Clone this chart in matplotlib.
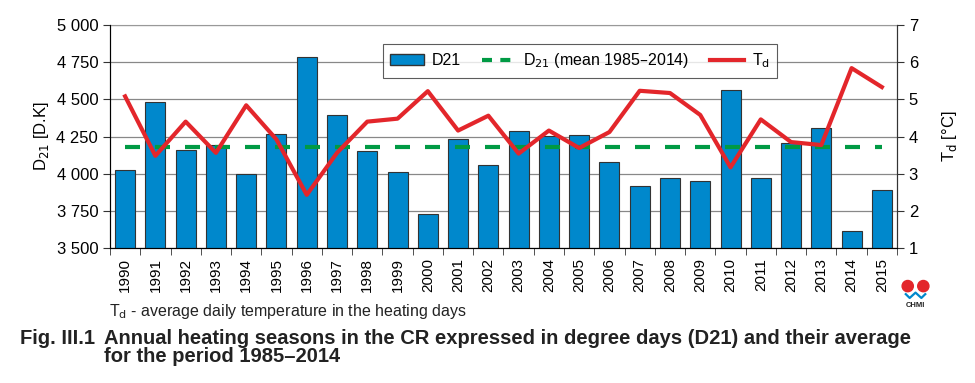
import numpy as np
import matplotlib
matplotlib.use("Agg")
import matplotlib.pyplot as plt
from matplotlib.ticker import FuncFormatter
from matplotlib.patches import Patch, Ellipse
from matplotlib.lines import Line2D

plt.rcParams['font.family'] = ['Liberation Sans', 'DejaVu Sans']

years = list(range(1990, 2016))
d21 = [4025, 4480, 4160, 4190, 4000, 4267, 4785, 4395, 4150, 4010,
       3730, 4232, 4056, 4287, 4255, 4258, 4076, 3915, 3971, 3951,
       4565, 3969, 4208, 4309, 3612, 3890]
td = [5.08, 3.48, 4.40, 3.56, 4.84, 3.92, 2.43, 3.56, 4.40, 4.48,
      5.22, 4.16, 4.56, 3.54, 4.16, 3.69, 4.12, 5.23, 5.17, 4.58,
      3.17, 4.46, 3.85, 3.77, 5.84, 5.33]
d21_mean = 4181

blue = '#0088cc'
green = '#009a44'
red = '#e3262b'

fig = plt.figure(figsize=(9.75, 3.83), dpi=100)
ax = fig.add_axes([0.1128, 0.3525, 0.8072, 0.5822])
x = np.arange(len(years))

ax.bar(x, d21, width=0.66, color=blue, edgecolor='#333333', linewidth=0.8, zorder=2)
ax.plot([x[0], x[-1]], [d21_mean, d21_mean], color=green, lw=3, dashes=(3.6, 3.6), zorder=3)
ax.set_ylim(3500, 5000)
ax.set_xlim(-0.5, len(years) - 0.5)
ax.set_yticks(np.arange(3500, 5001, 250))
ax.yaxis.set_major_formatter(FuncFormatter(lambda v, p: f"{int(v):,}".replace(",", " ")))
ax.grid(axis='y', color='#888888', lw=0.9, zorder=0)
ax.set_axisbelow(True)
ax.set_xticks(x)
ax.set_xticklabels([str(y) for y in years], rotation=90, fontsize=11)
ax.set_xticks(np.arange(-0.5, len(years)), minor=True)
ax.tick_params(axis='x', which='major', length=0, pad=7)
ax.tick_params(axis='x', which='minor', length=5, direction='out', color='#333333')
ax.tick_params(axis='y', labelsize=12, length=5, color='#333333')
ax.spines['top'].set_color('#999999')
for s in ['left', 'right', 'bottom']:
    ax.spines[s].set_color('#333333')
ax.set_ylabel('D$_{21}$ [D.K]', fontsize=12, labelpad=4)

ax2 = ax.twinx()
ax2.plot(x, td, color=red, lw=3, zorder=4)
ax2.set_ylim(1, 7)
ax2.set_yticks(range(1, 8))
ax2.tick_params(axis='y', labelsize=12, length=5, color='#333333')
ax2.spines['right'].set_color('#333333')
ax2.spines['top'].set_visible(False)
ax2.set_ylabel('T$_{\\mathrm{d}}$ [°C]', fontsize=12, labelpad=16)

handles = [Patch(facecolor=blue, edgecolor='#333333'),
           Line2D([], [], color=green, lw=3, dashes=(2.4, 2.0)),
           Line2D([], [], color=red, lw=3)]
labels = ['D21', 'D$_{21}$ (mean 1985–2014)', 'T$_{\\mathrm{d}}$']
leg = ax2.legend(handles, labels, ncol=3, loc='upper center', bbox_to_anchor=(0.597, 0.95),
                 fontsize=11.5, frameon=True, fancybox=False, edgecolor='#333333',
                 handlelength=2.1, handletextpad=0.5, columnspacing=1.3, borderpad=0.45)
leg.get_frame().set_linewidth(0.8)

fig.text(0.112, 0.175, 'T$_{\\mathrm{d}}$ - average daily temperature in the heating days',
         fontsize=11.5, color='#222222')
cap_style = dict(fontsize=14.5, fontweight='bold', color='#222222', va='baseline')
fig.text(0.021, 0.103, 'Fig. III.1', **cap_style)
fig.text(0.107, 0.103, 'Annual heating seasons in the CR expressed in degree days (D21) and their average',
         **cap_style)
fig.text(0.107, 0.055, 'for the period 1985–2014', **cap_style)

# CHMI mark
asp = 975 / 383
for cx in (0.931, 0.947):
    fig.patches.append(Ellipse((cx, 0.253), 0.0115, 0.0115 * asp, transform=fig.transFigure, color=red))
fig.lines.append(Line2D([0.929, 0.933, 0.936, 0.939, 0.942, 0.945, 0.949],
                        [0.232, 0.222, 0.229, 0.236, 0.229, 0.222, 0.232],
                        transform=fig.transFigure, color=blue, lw=1.6))
fig.text(0.939, 0.198, 'CHMI', fontsize=5.5, fontweight='bold', ha='center', color='#222222')

fig.savefig('out.png', dpi=100)
